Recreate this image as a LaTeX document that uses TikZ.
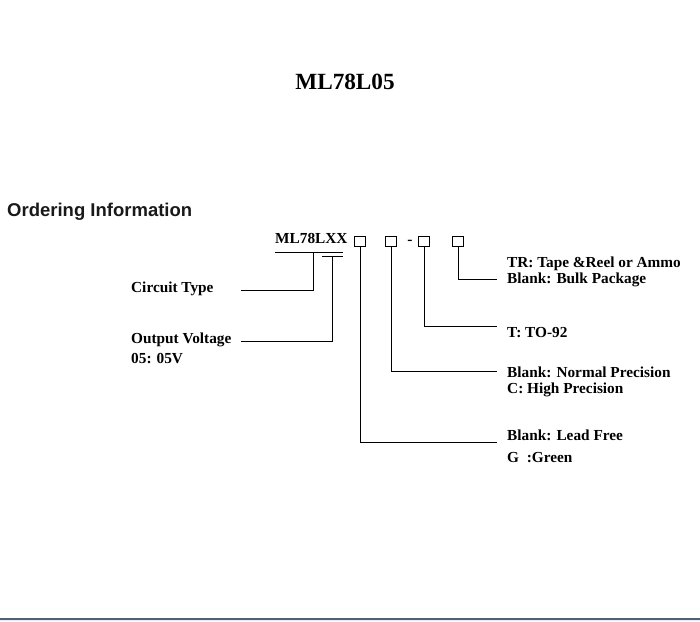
\documentclass[tikz,border=0pt]{standalone}
\usepackage{fontspec}
\setmainfont{Liberation Serif}
\newfontfamily\headsans{Liberation Sans}
\begin{document}
\begin{tikzpicture}[x=1pt,y=-1pt,
  lbl/.style={anchor=base west,inner sep=0pt,font=\fontsize{15.3}{18}\selectfont\bfseries},
  sq/.style={draw,line width=0.8pt,minimum width=11pt,minimum height=10pt,inner sep=0pt},
  ln/.style={line width=1pt}]
\useasboundingbox (0,0) rectangle (700,621);
\fill[white] (0,0) rectangle (700,621);
% title
\node[anchor=base,inner sep=0pt,font=\fontsize{23.2}{27}\selectfont\bfseries] (title) at (345,89) {ML78L05};
\node[anchor=base west,inner sep=0pt,font=\headsans\fontsize{18.5}{22}\selectfont\bfseries,text=black!90] (oi) at (7,216) {Ordering Information};
% part number
\node[lbl] (pn) at (275,243) {ML78LXX};
\node[sq] (b1) at (360,241) {};
\node[sq] (b2) at (391,241) {};
\node[lbl,anchor=base] (dash) at (410,244.5) {-};
\node[sq] (b3) at (424,241) {};
\node[sq] (b4) at (458,241) {};
% underlines
\coordinate (u1a) at (275,252);
\coordinate (u1b) at (343,252);
\coordinate (u2a) at (322,256.5);
\coordinate (u2b) at (343,256.5);
\draw[ln] (u1a) -- (u1b);
\draw[ln] (u2a) -- (u2b);
% left labels
\node[lbl] (ct) at (131,292) {Circuit Type};
\node[lbl] (ov) at (131,343) {Output Voltage};
\node[lbl] (ov2) at (131,363) {05: 05V};
\coordinate (ct1) at (313,252);
\coordinate (ctend) at (241,290);
\coordinate (ov1) at (332,256.5);
\coordinate (ovend) at (241,341);
\draw[ln] (ct1) |- (ctend);
\draw[ln] (ov1) |- (ovend);
% right labels
\node[lbl] (tr) at (507,267) {TR: Tape \&Reel or Ammo};
\node[lbl] (bk) at (507,283) {Blank: Bulk Package};
\node[lbl] (to) at (507,337) {T: TO-92};
\node[lbl] (np) at (507,377) {Blank: Normal Precision};
\node[lbl] (hp) at (507,393) {C: High Precision};
\node[lbl] (lf) at (507,440) {Blank: Lead Free};
\node[lbl] (gr) at (507,462) {G\ \ :Green};
\coordinate (e4) at (497,279);
\coordinate (e3) at (497,326);
\coordinate (e2) at (497,371);
\coordinate (e1) at (497,442);
\draw[ln] (b4.south) |- (e4);
\draw[ln] (b3.south) |- (e3);
\draw[ln] (b2.south) |- (e2);
\draw[ln] (b1.south) |- (e1);
% bottom rule
\fill[blue!8] (0,619.5) rectangle (700,621);
\draw[line width=1.4pt,color={rgb,255:red,80;green,96;blue,116}] (0,619) -- (700,619);
\end{tikzpicture}
\end{document}
